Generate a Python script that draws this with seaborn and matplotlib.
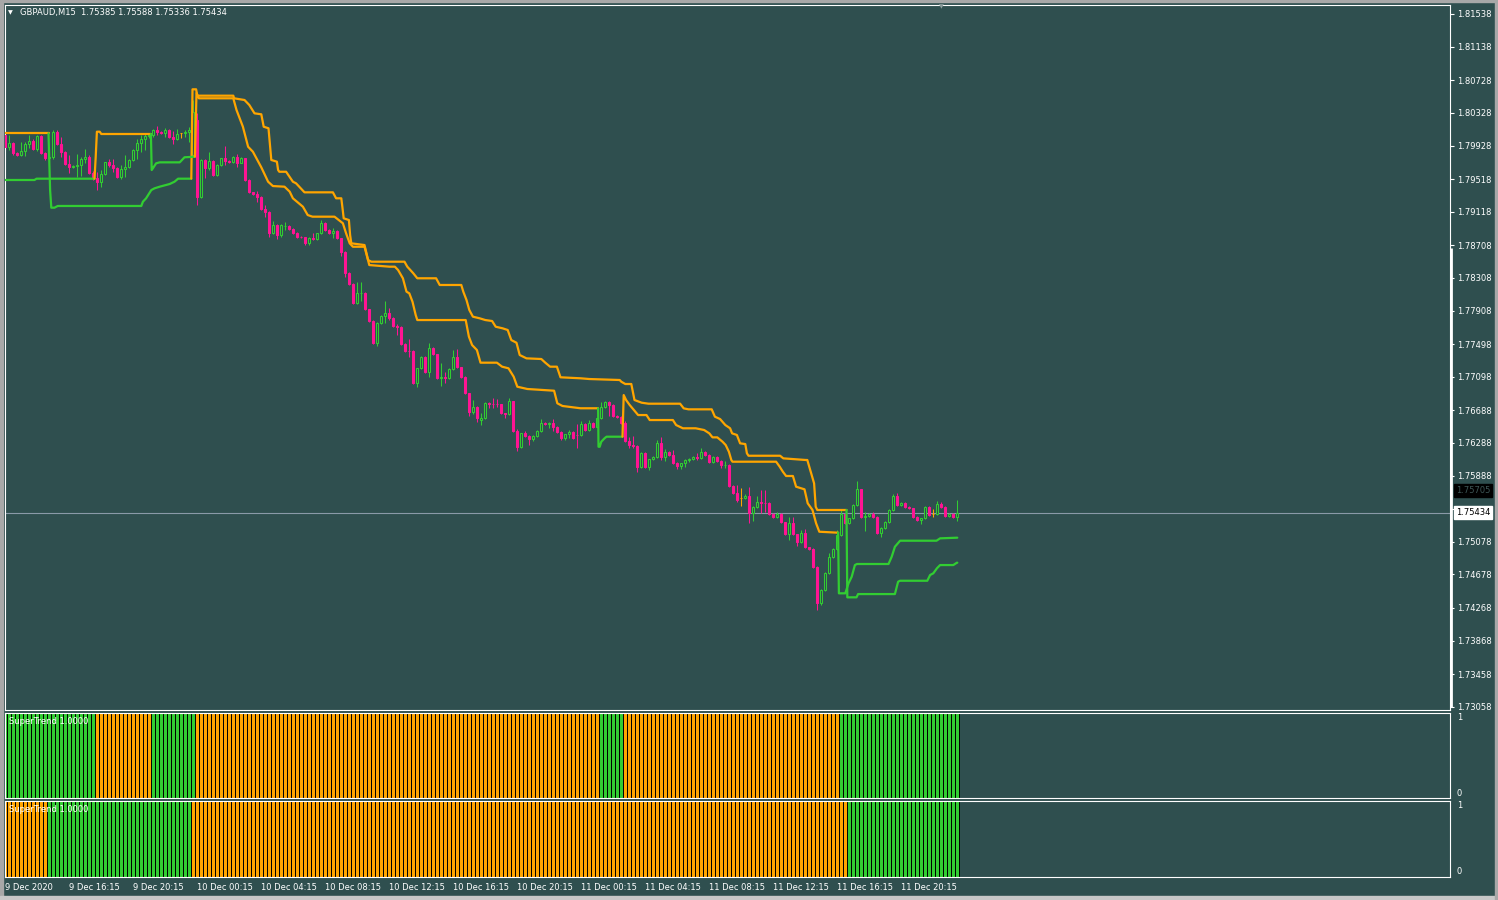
import numpy as np
import pandas as pd
import matplotlib
matplotlib.use("Agg")
import matplotlib.pyplot as plt
from matplotlib.patches import Rectangle
import seaborn as sns

# ---------------- data ----------------
symbol_title = "GBPAUD,M15  1.75385 1.75588 1.75336 1.75434"

closes = [
    1.79910, 1.79959, 1.79840, 1.79812, 1.79861, 1.79943, 1.79983, 1.79885, 1.80048, 1.79840,
    1.79771, 1.79787, 1.80097, 1.79946, 1.79852, 1.79698, 1.79661, 1.79677, 1.79689, 1.79763,
    1.79791, 1.79595, 1.79530, 1.79485, 1.79576, 1.79722, 1.79689, 1.79656, 1.79546, 1.79637,
    1.79661, 1.79751, 1.79873, 1.79962, 1.80004, 1.80044, 1.80057, 1.80118, 1.80097, 1.80085,
    1.80118, 1.80036, 1.80011, 1.80069, 1.80077, 1.80097, 1.80118, 1.80338, 1.79294, 1.79751,
    1.79649, 1.79738, 1.79567, 1.79689, 1.79771, 1.79742, 1.79730, 1.79784, 1.79718, 1.79771,
    1.79506, 1.79355, 1.79334, 1.79301, 1.79147, 1.79118, 1.78861, 1.78955, 1.78833, 1.78955,
    1.78946, 1.78906, 1.78861, 1.78812, 1.78804, 1.78731, 1.78792, 1.78780, 1.78853, 1.78976,
    1.78894, 1.78861, 1.78885, 1.78792, 1.78628, 1.78371, 1.78233, 1.78004, 1.78119, 1.78126,
    1.77923, 1.77784, 1.77514, 1.77759, 1.77841, 1.77874, 1.77813, 1.77722, 1.77703, 1.77498,
    1.77416, 1.77412, 1.77025, 1.77201, 1.77336, 1.77159, 1.77446, 1.77372, 1.77079, 1.77091,
    1.77079, 1.77189, 1.77336, 1.77213, 1.77098, 1.76895, 1.76662, 1.76724, 1.76589, 1.76589,
    1.76773, 1.76770, 1.76764, 1.76760, 1.76650, 1.76645, 1.76797, 1.76437, 1.76241, 1.76405,
    1.76376, 1.76336, 1.76376, 1.76434, 1.76528, 1.76516, 1.76528, 1.76479, 1.76425, 1.76344,
    1.76393, 1.76425, 1.76344, 1.76380, 1.76516, 1.76446, 1.76528, 1.76487, 1.76589, 1.76724,
    1.76792, 1.76752, 1.76621, 1.76609, 1.76535, 1.76315, 1.76262, 1.76250, 1.75997, 1.76161,
    1.75997, 1.76087, 1.76112, 1.76283, 1.76119, 1.76173, 1.76140, 1.76046, 1.76009, 1.76038,
    1.76079, 1.76091, 1.76112, 1.76105, 1.76180, 1.76140, 1.76058, 1.76112, 1.76070, 1.76017,
    1.76020, 1.75764, 1.75678, 1.75589, 1.75610, 1.75638, 1.75426, 1.75507, 1.75568, 1.75556,
    1.75552, 1.75418, 1.75385, 1.75418, 1.75316, 1.75169, 1.75304, 1.75169, 1.75079, 1.75181,
    1.75010, 1.74986, 1.74765, 1.74325, 1.74487, 1.74692, 1.74888, 1.74986, 1.75161, 1.75418,
    1.75308, 1.75365, 1.75528, 1.75720, 1.75377, 1.75393, 1.75418, 1.75385, 1.75189, 1.75243,
    1.75323, 1.75467, 1.75638, 1.75528, 1.75549, 1.75507, 1.75487, 1.75385, 1.75344, 1.75365,
    1.75500, 1.75405, 1.75418, 1.75540, 1.75500, 1.75393, 1.75418, 1.75377, 1.75434]

opens = [
    1.80057, 1.79910, 1.79959, 1.79840, 1.79812, 1.79861, 1.79943, 1.79983, 1.79885, 1.80048,
    1.79840, 1.79771, 1.79787, 1.80097, 1.79946, 1.79852, 1.79698, 1.79661, 1.79677, 1.79689,
    1.79763, 1.79791, 1.79595, 1.79530, 1.79485, 1.79576, 1.79722, 1.79689, 1.79656, 1.79546,
    1.79637, 1.79661, 1.79751, 1.79873, 1.79962, 1.80004, 1.80044, 1.80057, 1.80118, 1.80097,
    1.80085, 1.80118, 1.80036, 1.80011, 1.80077, 1.80077, 1.80097, 1.79812, 1.80240, 1.79298,
    1.79751, 1.79649, 1.79738, 1.79567, 1.79689, 1.79771, 1.79742, 1.79730, 1.79784, 1.79718,
    1.79771, 1.79506, 1.79355, 1.79334, 1.79301, 1.79147, 1.79118, 1.78861, 1.78955, 1.78833,
    1.78940, 1.78946, 1.78906, 1.78861, 1.78812, 1.78804, 1.78731, 1.78792, 1.78780, 1.78853,
    1.78976, 1.78894, 1.78861, 1.78885, 1.78792, 1.78628, 1.78371, 1.78233, 1.78004, 1.78119,
    1.78126, 1.77923, 1.77784, 1.77514, 1.77759, 1.77841, 1.77874, 1.77813, 1.77722, 1.77703,
    1.77498, 1.77416, 1.77412, 1.77025, 1.77201, 1.77336, 1.77159, 1.77446, 1.77372, 1.77079,
    1.77091, 1.77079, 1.77189, 1.77336, 1.77213, 1.77098, 1.76895, 1.76662, 1.76724, 1.76568,
    1.76589, 1.76773, 1.76770, 1.76764, 1.76760, 1.76650, 1.76645, 1.76797, 1.76437, 1.76241,
    1.76405, 1.76376, 1.76336, 1.76376, 1.76434, 1.76528, 1.76516, 1.76528, 1.76479, 1.76425,
    1.76344, 1.76393, 1.76425, 1.76385, 1.76380, 1.76516, 1.76446, 1.76528, 1.76487, 1.76589,
    1.76724, 1.76792, 1.76752, 1.76621, 1.76609, 1.76535, 1.76315, 1.76262, 1.76250, 1.75997,
    1.76161, 1.75997, 1.76087, 1.76112, 1.76283, 1.76119, 1.76173, 1.76140, 1.76046, 1.76009,
    1.76038, 1.76079, 1.76091, 1.76112, 1.76105, 1.76180, 1.76140, 1.76058, 1.76112, 1.76070,
    1.76017, 1.76020, 1.75764, 1.75678, 1.75610, 1.75610, 1.75638, 1.75426, 1.75507, 1.75568,
    1.75556, 1.75552, 1.75418, 1.75385, 1.75418, 1.75316, 1.75169, 1.75304, 1.75169, 1.75079,
    1.75181, 1.75010, 1.74986, 1.74765, 1.74325, 1.74487, 1.74692, 1.74888, 1.74986, 1.75161,
    1.75418, 1.75308, 1.75365, 1.75528, 1.75720, 1.75377, 1.75393, 1.75418, 1.75385, 1.75189,
    1.75243, 1.75323, 1.75467, 1.75638, 1.75528, 1.75549, 1.75507, 1.75487, 1.75385, 1.75344,
    1.75365, 1.75500, 1.75418, 1.75418, 1.75540, 1.75500, 1.75393, 1.75418, 1.75385]

# wick lengths beyond the body, in pips (0.0001)
wick_up_pips = [
    2, 10, 1, 1, 11, 3, 7, 3, 1, 1,
    1, 11, 2, 2, 9, 1, 11, 1, 13, 3,
    10, 2, 2, 7, 5, 1, 4, 7, 1, 5,
    15, 1, 1, 5, 5, 3, 2, 1, 5, 1,
    3, 1, 7, 6, 1, 2, 4, 15, 9, 1,
    1, 11, 1, 1, 1, 15, 1, 2, 4, 2,
    1, 1, 1, 4, 1, 5, 1, 5, 1, 1,
    4, 1, 1, 1, 1, 1, 2, 7, 1, 4,
    1, 1, 3, 1, 1, 1, 1, 1, 14, 13,
    1, 1, 1, 1, 1, 15, 6, 2, 2, 2,
    1, 14, 1, 1, 1, 1, 6, 1, 1, 17,
    6, 1, 9, 10, 1, 1, 1, 9, 1, 6,
    1, 2, 7, 6, 1, 1, 4, 1, 2, 1,
    3, 1, 1, 1, 5, 1, 1, 5, 1, 1,
    1, 2, 1, 13, 4, 2, 4, 1, 1, 6,
    1, 1, 1, 1, 1, 2, 5, 11, 1, 1,
    1, 1, 1, 4, 8, 4, 2, 6, 1, 1,
    1, 1, 1, 5, 5, 1, 1, 1, 1, 1,
    5, 1, 1, 10, 13, 2, 11, 1, 7, 14,
    15, 1, 1, 2, 1, 1, 8, 8, 1, 4,
    5, 1, 1, 2, 1, 1, 5, 1, 6, 5,
    1, 1, 1, 10, 1, 5, 1, 3, 1, 1,
    1, 1, 2, 4, 2, 1, 1, 1, 1, 1,
    1, 1, 6, 4, 2, 1, 1, 1, 15]

wick_dn_pips = [
    4, 4, 3, 1, 1, 6, 4, 1, 2, 2,
    2, 5, 2, 1, 6, 1, 7, 1, 14, 14,
    5, 1, 2, 10, 6, 1, 3, 5, 2, 3,
    10, 1, 1, 11, 11, 13, 2, 2, 4, 1,
    5, 1, 6, 1, 6, 4, 12, 2, 10, 1,
    12, 2, 1, 1, 1, 5, 1, 1, 5, 1,
    1, 1, 1, 6, 1, 6, 5, 1, 5, 2,
    4, 1, 1, 1, 1, 2, 2, 1, 1, 1,
    1, 1, 7, 1, 5, 5, 1, 1, 1, 9,
    1, 1, 1, 4, 1, 8, 2, 1, 10, 1,
    2, 7, 1, 5, 1, 1, 6, 1, 1, 10,
    6, 1, 1, 1, 1, 1, 5, 2, 5, 6,
    1, 6, 5, 3, 1, 5, 1, 1, 5, 2,
    1, 7, 2, 1, 1, 1, 5, 4, 1, 2,
    2, 5, 1, 16, 1, 1, 1, 2, 1, 1,
    1, 13, 1, 1, 1, 1, 4, 2, 6, 1,
    1, 4, 1, 1, 4, 5, 1, 2, 4, 4,
    4, 2, 1, 2, 1, 1, 1, 1, 1, 4,
    3, 1, 1, 2, 10, 1, 12, 9, 1, 13,
    11, 1, 1, 1, 1, 1, 7, 1, 5, 1,
    1, 1, 1, 8, 2, 1, 1, 1, 1, 1,
    1, 1, 1, 1, 1, 17, 1, 1, 1, 5,
    1, 1, 1, 1, 1, 1, 1, 1, 1, 5,
    1, 1, 4, 1, 1, 1, 1, 1, 5]

# SuperTrend lines: (bar index, price) vertices of each coloured piece
slow_down_1_bar = [0, 10.8]
slow_down_1_px = [1.80077, 1.80077]
slow_up_1_bar = [10.8, 11.2, 11.5, 12.3, 13.1, 34.0, 34.4, 35.2, 36.5, 37.3, 38.6, 41.1, 42.3, 43.2, 46.5]
slow_up_1_px = [1.80077, 1.79383, 1.79167, 1.79167, 1.79188, 1.79188, 1.79240, 1.79282, 1.79383,
                1.79404, 1.79424, 1.79457, 1.79485, 1.79522, 1.79522]
slow_down_2_bar = [46.5, 46.8, 47.7, 48.0, 57.0, 57.2, 59.8, 61.0, 62.3, 64.0, 64.6, 65.8, 66.5, 67.9,
                   68.2, 68.5, 70.2, 71.9, 72.7, 74.8, 81.9, 82.7, 84.0, 84.3, 84.6, 85.9, 86.2, 86.5,
                   89.8, 90.7, 91.5, 99.8, 100.5, 102.0, 103.0, 107.7, 108.6, 114.0, 114.5, 115.3,
                   116.0, 116.9, 118.6, 120.0, 121.7, 122.6, 124.3, 125.6, 126.5, 127.8, 128.6,
                   130.3, 134.0, 135.0, 136.2, 137.9, 138.8, 143.8, 146.0, 153.6, 154.0, 155.0,
                   156.5, 157.3, 159.1, 160.8, 168.7, 169.6, 170.8, 176.6, 177.4, 178.7, 180.0,
                   181.2, 181.7, 182.9, 183.7, 185.0, 185.4, 185.8, 193.7, 194.5, 200.1, 200.5,
                   202.2, 202.6, 203.0, 210.3]
slow_down_2_px = [1.79522, 1.80616, 1.80616, 1.80538, 1.80538, 1.80506, 1.80485, 1.80424, 1.80322,
                  1.80310, 1.80158, 1.80139, 1.79751, 1.79730, 1.79628, 1.79607, 1.79607, 1.79485,
                  1.79465, 1.79355, 1.79355, 1.79282, 1.79282, 1.79163, 1.79037, 1.79016, 1.78833,
                  1.78731, 1.78710, 1.78527, 1.78506, 1.78506, 1.78445, 1.78364, 1.78303, 1.78303,
                  1.78221, 1.78221, 1.78139, 1.78037, 1.77915, 1.77833, 1.77813, 1.77792, 1.77780,
                  1.77710, 1.77691, 1.77670, 1.77547, 1.77514, 1.77364, 1.77323, 1.77315, 1.77270,
                  1.77221, 1.77221, 1.77091, 1.77079, 1.77070, 1.77058, 1.77037, 1.77009, 1.77009,
                  1.76813, 1.76780, 1.76768, 1.76768, 1.76711, 1.76699, 1.76699, 1.76609, 1.76580,
                  1.76507, 1.76467, 1.76405, 1.76385, 1.76283, 1.76274, 1.76161, 1.76131, 1.76131,
                  1.76099, 1.76079, 1.76079, 1.75793, 1.75507, 1.75467, 1.75467]
slow_up_2_bar = [210.3, 210.5, 212.8, 213.2, 222.4, 223.2, 223.7, 230.5, 231.2, 232.0, 232.9, 233.7,
                 237.0, 237.9, 238.0]
slow_up_2_px = [1.75467, 1.74398, 1.74398, 1.74438, 1.74438, 1.74589, 1.74601, 1.74601, 1.74671,
                1.74692, 1.74753, 1.74793, 1.74793, 1.74822, 1.74822]

fast_up_1_bar = [0, 7.3, 7.8, 22.3]
fast_up_1_px = [1.79506, 1.79506, 1.79522, 1.79522]
fast_down_1_bar = [22.3, 22.6, 22.9, 23.6, 24.0, 36.4]
fast_down_1_px = [1.79522, 1.79787, 1.80097, 1.80097, 1.80069, 1.80069]
fast_up_2_bar = [36.4, 36.6, 36.9, 37.7, 38.6, 43.6, 44.0, 44.8, 47.4]
fast_up_2_px = [1.80069, 1.79628, 1.79649, 1.79710, 1.79722, 1.79722, 1.79742, 1.79784, 1.79791]
fast_down_2_bar = [47.4, 47.8, 48.4, 57.0, 57.8, 59.4, 60.7, 61.9, 64.0, 65.7, 66.9, 69.8, 71.1, 71.9,
                   74.4, 75.6, 76.8, 82.3, 84.4, 85.2, 86.1, 86.9, 89.8, 91.0, 96.0, 97.4, 98.2,
                   99.4, 100.3, 101.0, 101.8, 102.6, 103.0, 115.1, 115.9, 116.7, 117.9, 118.8,
                   122.9, 124.2, 125.8, 127.1, 128.0, 130.5, 137.2, 138.0, 139.3, 143.8, 148.2]
fast_down_2_px = [1.79791, 1.80571, 1.80506, 1.80506, 1.80363, 1.80158, 1.79913, 1.79852, 1.79661,
                  1.79485, 1.79432, 1.79424, 1.79363, 1.79282, 1.79179, 1.79077, 1.79057, 1.79057,
                  1.78976, 1.78853, 1.78731, 1.78689, 1.78689, 1.78465, 1.78445, 1.78445, 1.78404,
                  1.78303, 1.78139, 1.78119, 1.78016, 1.77853, 1.77792, 1.77792, 1.77588, 1.77486,
                  1.77425, 1.77270, 1.77270, 1.77221, 1.77201, 1.77098, 1.76976, 1.76948, 1.76927,
                  1.76773, 1.76740, 1.76712, 1.76712]
fast_up_3_bar = [148.2, 148.3, 148.6, 149.0, 149.8, 150.3, 154.3]
fast_up_3_px = [1.76712, 1.76241, 1.76241, 1.76303, 1.76344, 1.76364, 1.76364]
fast_down_3_bar = [154.3, 154.6, 155.2, 156.1, 157.3, 158.2, 160.3, 161.1, 166.9, 167.7, 169.4, 172.6,
                   174.7, 176.0, 176.8, 178.0, 179.3, 180.1, 180.9, 181.5, 181.8, 192.7, 193.6,
                   194.4, 195.2, 196.9, 197.7, 199.8, 200.6, 201.8, 202.7, 203.5, 208.2]
fast_down_3_px = [1.76364, 1.76874, 1.76813, 1.76752, 1.76682, 1.76629, 1.76629, 1.76568, 1.76568,
                  1.76507, 1.76467, 1.76467, 1.76446, 1.76405, 1.76356, 1.76356, 1.76303, 1.76262,
                  1.76180, 1.76079, 1.76058, 1.76058, 1.75997, 1.75935, 1.75883, 1.75883, 1.75752,
                  1.75720, 1.75549, 1.75467, 1.75304, 1.75201, 1.75189]
fast_up_4_bar = [208.2, 208.4, 210.0, 210.8, 211.6, 212.4, 212.9, 220.8, 221.6, 222.4, 223.7, 232.8,
                 233.7, 238.0]
fast_up_4_px = [1.75189, 1.74447, 1.74447, 1.74569, 1.74650, 1.74793, 1.74806, 1.74806, 1.74895,
                1.75017, 1.75091, 1.75091, 1.75120, 1.75128]

# SuperTrend histogram states (run lengths of bars)
fast_runs = [("up", 23), ("down", 14), ("up", 11), ("down", 101), ("up", 6), ("down", 54), ("up", 30)]
slow_runs = [("down", 11), ("up", 36), ("down", 164), ("up", 28)]

price_ticks = [1.81538, 1.81138, 1.80728, 1.80328, 1.79928, 1.79518, 1.79118, 1.78708, 1.78308,
               1.77908, 1.77498, 1.77098, 1.76688, 1.76288, 1.75888, 1.75478, 1.75078, 1.74678,
               1.74268, 1.73868, 1.73458, 1.73058]
time_tick_bars = [0, 16, 32, 48, 64, 80, 96, 112, 128, 144, 160, 176, 192, 208, 224]
time_tick_labels = ["9 Dec 2020", "9 Dec 16:15", "9 Dec 20:15", "10 Dec 00:15", "10 Dec 04:15",
                    "10 Dec 08:15", "10 Dec 12:15", "10 Dec 16:15", "10 Dec 20:15", "11 Dec 00:15",
                    "11 Dec 04:15", "11 Dec 08:15", "11 Dec 12:15", "11 Dec 16:15", "11 Dec 20:15"]
bid_price = 1.75434
ask_price = 1.75705

# ---------------- style ----------------
BG = "#2F4F4F"
GREEN = "#32CD32"
ORANGE = "#FFA500"
PINK = "#FF1493"
PAL = {"up": GREEN, "down": ORANGE}
FS = 6.0

sns.set_theme(style="dark", rc={
    "axes.facecolor": BG, "figure.facecolor": BG, "savefig.facecolor": BG,
    "axes.edgecolor": "white", "axes.linewidth": 0.8, "axes.grid": False,
    "xtick.color": "white", "ytick.color": "white", "text.color": "white",
    "axes.labelcolor": "white"})
plt.rcParams["font.family"] = ["DejaVu Sans"]

W, H = 1498, 900
fig = plt.figure(figsize=(W / 100, H / 100), dpi=100)
left = 4.5 / W
width = (1450 - 4.5) / W
ax = fig.add_axes([left, (H - 710) / H, width, (710 - 4.5) / H])
ax1 = fig.add_axes([left, (H - 797.5) / H, width, 85 / H])
ax2 = fig.add_axes([left, (H - 876.5) / H, width, 76 / H])

n = len(closes)
bars = np.arange(n)
PIP = 0.0001
df = pd.DataFrame({"bar": bars, "open": opens, "close": closes,
                   "wu": wick_up_pips, "wd": wick_dn_pips})
df["top"] = df[["open", "close"]].max(axis=1)
df["bot"] = df[["open", "close"]].min(axis=1)
df["high"] = df["top"] + df["wu"] * PIP
df["low"] = df["bot"] - df["wd"] * PIP
df["kind"] = np.where(df["close"] > df["open"], "bull",
                      np.where(df["close"] < df["open"], "bear", "doji"))
edge_col = df["kind"].map({"bull": GREEN, "bear": PINK, "doji": ORANGE})
face_col = df["kind"].map({"bull": BG, "bear": PINK, "doji": ORANGE})

# candles
ax.vlines(df["bar"], df["low"], df["high"], colors=edge_col, linewidth=0.75, zorder=2)
ax.bar(df["bar"], df["top"] - df["bot"], bottom=df["bot"], width=0.55,
       color=face_col, edgecolor=edge_col, linewidth=0.75, zorder=3)

# bid line
ax.axhline(bid_price, color="#8A9AA8", linewidth=0.8, zorder=1)

# SuperTrend lines
segments = [
    (slow_down_1_bar, slow_down_1_px, ORANGE), (slow_up_1_bar, slow_up_1_px, GREEN),
    (slow_down_2_bar, slow_down_2_px, ORANGE), (slow_up_2_bar, slow_up_2_px, GREEN),
    (fast_up_1_bar, fast_up_1_px, GREEN), (fast_down_1_bar, fast_down_1_px, ORANGE),
    (fast_up_2_bar, fast_up_2_px, GREEN), (fast_down_2_bar, fast_down_2_px, ORANGE),
    (fast_up_3_bar, fast_up_3_px, GREEN), (fast_down_3_bar, fast_down_3_px, ORANGE),
    (fast_up_4_bar, fast_up_4_px, GREEN),
]
for xs, ys, col in segments:
    sns.lineplot(x=xs, y=ys, sort=False, estimator=None, color=col, linewidth=1.6,
                 ax=ax, legend=False, zorder=4)

XMIN, XMAX = -0.2, 361.175
ax.set_xlim(XMIN, XMAX)
ax.set_ylim(1.73019, 1.81654)
ax.set_xlabel("")
ax.set_ylabel("")
ax.set_xticks([])
ax.yaxis.tick_right()
ax.set_yticks(price_ticks)
ax.set_yticklabels([f"{v:.5f}" for v in price_ticks])
ax.tick_params(axis="y", direction="out", length=3, width=0.8, colors="white",
               labelsize=FS, pad=2)

# thick segment on the right scale border
ax.plot([1.0007, 1.0007], [0.00425, 0.6549], transform=ax.transAxes, color="white",
        linewidth=2.0, clip_on=False, solid_capstyle="butt", zorder=6)

# price labels
ax.annotate(f"{ask_price:.5f}", xy=(1, ask_price), xycoords=("axes fraction", "data"),
            xytext=(6, 0), textcoords="offset pixels", ha="left", va="center",
            fontsize=FS, color="#3E5656",
            bbox=dict(boxstyle="square,pad=0.22", fc="black", ec="black"), annotation_clip=False)
ax.annotate(f"{bid_price:.5f}", xy=(1, bid_price), xycoords=("axes fraction", "data"),
            xytext=(6, 0), textcoords="offset pixels", ha="left", va="center",
            fontsize=FS, color="black",
            bbox=dict(boxstyle="square,pad=0.22", fc="white", ec="white"), annotation_clip=False)

# indicator histograms
for axp, runs in ((ax1, fast_runs), (ax2, slow_runs)):
    state = [s for s, k in runs for _ in range(k)]
    sns.barplot(x=bars, y=np.ones(n), hue=state, palette=PAL, native_scale=True, width=1.0,
                dodge=False, errorbar=None, saturation=1, edgecolor="black", linewidth=0.7,
                legend=False, ax=axp)
    axp.set_xlim(XMIN, XMAX)
    axp.set_ylim(0, 1)
    axp.set_xlabel("")
    axp.set_ylabel("")
    axp.yaxis.tick_right()
    axp.set_yticks([0, 1])
    axp.set_yticklabels(["0", "1"])
    axp.tick_params(axis="y", direction="out", length=0, colors="white", labelsize=FS, pad=5)
    lbls = axp.get_yticklabels()
    lbls[0].set_va("bottom")
    lbls[1].set_va("top")
    axp.text(0.0031, 0.9 if axp is ax1 else 0.888, "SuperTrend 1.0000", transform=axp.transAxes,
             fontsize=FS, color="white", va="center", ha="left")

ax1.set_xticks([])
ax2.set_xticks(time_tick_bars)
ax2.set_xticklabels(time_tick_labels, ha="left")
ax2.tick_params(axis="x", direction="out", length=3, width=0.8, colors="white",
                labelsize=FS, pad=1.5)

for a in (ax, ax1, ax2):
    for sp in a.spines.values():
        sp.set_color("white")
        sp.set_linewidth(0.8)

# header texts
fig.text(8 / W, 1 - 13 / H, "\u25BC", fontsize=4.5, color="white", va="center", ha="left")
fig.text(20 / W, 1 - 13 / H, symbol_title, fontsize=FS, color="white", va="center", ha="left")
fig.text(941 / W, 1 - 6.5 / H, "\u25BC", fontsize=4.5, color="#8C9C9C", va="center", ha="center")

# window frame strips
fig.patches.extend([
    Rectangle((0, 0), 3 / W, 1, transform=fig.transFigure, color="#A8A8A8", zorder=0),
    Rectangle((0, 0), 1, 4 / H, transform=fig.transFigure, color="#C8C8C8", zorder=0),
    Rectangle((1 - 3 / W, 0), 3 / W, 1, transform=fig.transFigure, color="#A8A8A8", zorder=0),
    Rectangle((0, 1 - 1.5 / H), 1, 1.5 / H, transform=fig.transFigure, color="#A8A8A8", zorder=0),
])

fig.savefig("out.png", dpi=100)
